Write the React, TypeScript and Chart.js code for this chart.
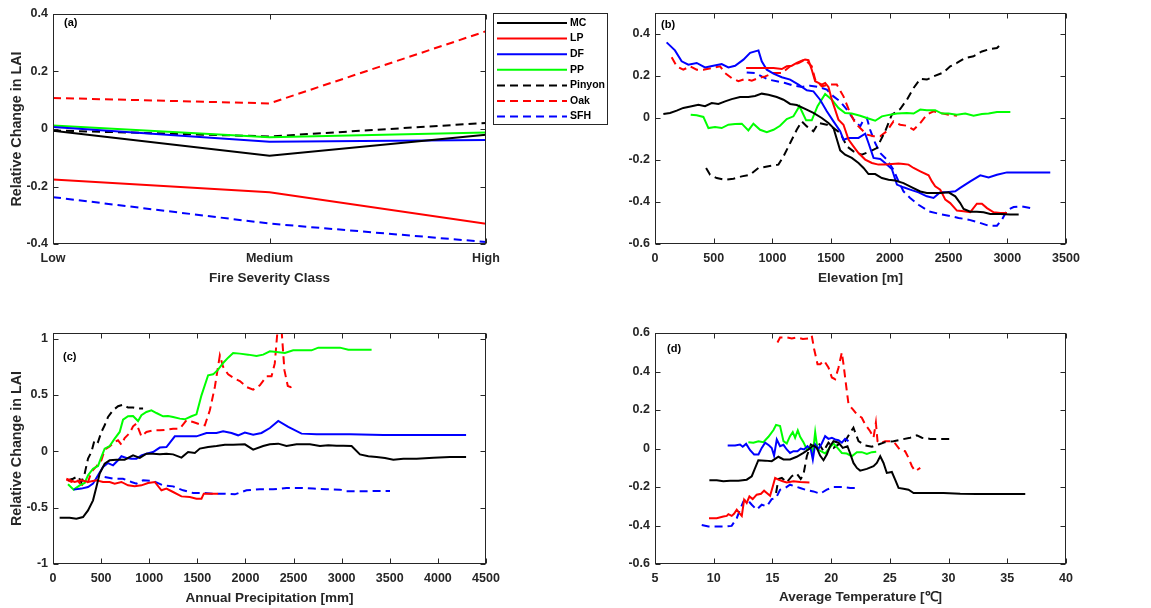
import React, { useEffect, useRef } from 'react';
import { Chart, registerables } from 'chart.js';
Chart.register(...registerables);

// ---------- series meta ----------
const seriesNames = ['MC', 'LP', 'DF', 'PP', 'Pinyon', 'Oak', 'SFH'];
const seriesColors = ['#000000', '#FF0000', '#0000FF', '#00FF00', '#000000', '#FF0000', '#0000FF'];
const seriesDashed = [false, false, false, false, true, true, true];

// ---------- panel (a): fire severity ----------
const severityClasses = ['Low', 'Medium', 'High'];
const sevMC = [-0.006, -0.093, -0.02];
const sevLP = [-0.176, -0.22, -0.33];
const sevDF = [0.007, -0.044, -0.038];
const sevPP = [0.012, -0.029, -0.012];
const sevPinyon = [-0.005, -0.026, 0.021];
const sevOak = [0.108, 0.089, 0.34];
const sevSFH = [-0.237, -0.329, -0.393];
const aXTicks = [0, 1, 2];
const aYTicks = [-0.4, -0.2, 0, 0.2, 0.4];

// ---------- panel (b): elevation [m] ----------
const elevMC = [[71,0.019],[128,0.024],[185,0.035],[241,0.048],[312,0.056],[369,0.063],[426,0.056],[483,0.071],[540,0.067],[597,0.079],[653,0.09],[724,0.1],[795,0.1],[852,0.105],[909,0.116],[966,0.111],[1037,0.1],[1094,0.087],[1151,0.067],[1207,0.062],[1278,0.043],[1349,0.024],[1420,0],[1477,-0.024],[1520,-0.048],[1548,-0.1],[1577,-0.154],[1619,-0.175],[1676,-0.19],[1733,-0.214],[1776,-0.238],[1818,-0.267],[1875,-0.267],[1932,-0.286],[1989,-0.294],[2045,-0.298],[2116,-0.31],[2188,-0.33],[2259,-0.35],[2315,-0.357],[2372,-0.357],[2429,-0.357],[2500,-0.354],[2557,-0.373],[2599,-0.405],[2628,-0.433],[2685,-0.446],[2741,-0.446],[2798,-0.449],[2855,-0.457],[2940,-0.457],[3026,-0.46],[3097,-0.46]];
const elevLP = [[776,0.238],[1009,0.238],[1080,0.233],[1122,0.246],[1165,0.249],[1207,0.262],[1250,0.273],[1278,0.278],[1307,0.275],[1335,0.23],[1364,0.175],[1392,0.167],[1420,0.159],[1449,0.167],[1477,0.148],[1506,0.087],[1534,0.04],[1562,-0.008],[1605,-0.032],[1648,-0.103],[1690,-0.135],[1733,-0.167],[1790,-0.198],[1847,-0.214],[1903,-0.222],[1960,-0.222],[2017,-0.219],[2074,-0.217],[2116,-0.219],[2159,-0.222],[2202,-0.238],[2259,-0.254],[2330,-0.273],[2358,-0.302],[2386,-0.325],[2429,-0.341],[2472,-0.389],[2514,-0.405],[2571,-0.441],[2628,-0.444],[2685,-0.448],[2741,-0.408],[2784,-0.408],[2827,-0.429],[2884,-0.449],[2940,-0.452],[2997,-0.452]];
const elevDF = [[99,0.36],[170,0.322],[227,0.27],[284,0.254],[355,0.262],[426,0.241],[497,0.249],[568,0.257],[625,0.241],[682,0.249],[753,0.278],[810,0.31],[881,0.322],[909,0.27],[952,0.23],[1009,0.211],[1080,0.194],[1151,0.183],[1222,0.159],[1293,0.132],[1349,0.127],[1406,0.087],[1463,0.032],[1520,-0.016],[1577,-0.063],[1605,-0.103],[1648,-0.095],[1690,-0.095],[1733,-0.095],[1790,-0.075],[1818,-0.119],[1861,-0.19],[1918,-0.195],[1960,-0.214],[2017,-0.243],[2060,-0.317],[2116,-0.33],[2173,-0.341],[2244,-0.354],[2315,-0.373],[2372,-0.381],[2429,-0.354],[2486,-0.354],[2557,-0.349],[2599,-0.333],[2685,-0.302],[2770,-0.273],[2841,-0.283],[2912,-0.27],[2997,-0.259],[3111,-0.259],[3366,-0.259]];
const elevPP = [[304,0.016],[355,0.013],[412,0.005],[455,-0.048],[511,-0.043],[568,-0.048],[625,-0.032],[682,-0.029],[739,-0.027],[795,-0.059],[838,-0.027],[895,-0.056],[952,-0.068],[1009,-0.056],[1065,-0.037],[1122,-0.005],[1179,0.008],[1230,0.056],[1287,-0.011],[1335,-0.011],[1384,0.056],[1449,0.114],[1506,0.087],[1562,0.048],[1619,0.024],[1676,0.021],[1747,0.011],[1804,0],[1875,-0.013],[1932,0.008],[2003,0.016],[2060,0.021],[2145,0.024],[2202,0.021],[2259,0.04],[2315,0.037],[2386,0.037],[2443,0.021],[2500,0.021],[2571,0.016],[2642,0.021],[2713,0.011],[2784,0.019],[2841,0.021],[2912,0.029],[3026,0.029]];
const elevPinyon = [[435,-0.238],[469,-0.27],[526,-0.286],[597,-0.294],[668,-0.289],[739,-0.278],[810,-0.27],[881,-0.238],[966,-0.23],[1051,-0.222],[1094,-0.183],[1151,-0.119],[1207,-0.056],[1250,-0.016],[1293,-0.04],[1349,-0.063],[1392,-0.024],[1463,-0.032],[1520,-0.048],[1577,-0.071],[1634,-0.135],[1690,-0.159],[1761,-0.175],[1832,-0.159],[1889,-0.143],[1960,-0.063],[2017,0.016],[2088,0.043],[2145,0.087],[2202,0.143],[2259,0.186],[2315,0.183],[2372,0.198],[2457,0.217],[2514,0.246],[2571,0.262],[2642,0.286],[2713,0.294],[2784,0.317],[2855,0.329],[2912,0.333],[2955,0.357]];
const elevOak = [[142,0.289],[185,0.246],[241,0.23],[298,0.246],[355,0.23],[412,0.23],[483,0.238],[554,0.246],[597,0.214],[653,0.19],[710,0.175],[767,0.186],[824,0.178],[881,0.19],[938,0.198],[1009,0.214],[1080,0.214],[1151,0.246],[1222,0.262],[1278,0.278],[1335,0.246],[1364,0.183],[1420,0.151],[1477,0.159],[1548,0.159],[1605,0.103],[1662,0.024],[1705,-0.024],[1747,-0.048],[1804,-0.079],[1861,-0.087],[1918,-0.087],[1974,-0.063],[2031,-0.016],[2088,-0.032],[2145,-0.037],[2202,-0.056],[2259,-0.024],[2315,0.016],[2372,0.032],[2429,0.024],[2500,0.016],[2571,0.011]];
const elevSFH = [[781,0.217],[852,0.214],[909,0.198],[966,0.183],[1037,0.175],[1108,0.167],[1179,0.154],[1250,0.148],[1321,0.154],[1392,0.148],[1463,0.135],[1520,0.103],[1577,0.079],[1634,0.04],[1690,-0.005],[1747,-0.04],[1776,-0.008],[1804,0],[1832,-0.056],[1875,-0.119],[1918,-0.167],[1974,-0.198],[2031,-0.246],[2074,-0.302],[2116,-0.349],[2173,-0.381],[2244,-0.413],[2330,-0.444],[2415,-0.456],[2500,-0.465],[2585,-0.476],[2670,-0.484],[2756,-0.497],[2841,-0.513],[2912,-0.513],[2955,-0.484],[2997,-0.44],[3054,-0.424],[3125,-0.421],[3196,-0.429]];
const bXTicks = [0, 500, 1000, 1500, 2000, 2500, 3000, 3500];
const bYTicks = [-0.6, -0.4, -0.2, 0, 0.2, 0.4];

// ---------- panel (c): annual precipitation [mm] ----------
const precMC = [[69,-0.589],[173,-0.589],[243,-0.598],[312,-0.583],[364,-0.524],[416,-0.435],[451,-0.317],[485,-0.198],[537,-0.109],[589,-0.08],[659,-0.074],[745,-0.074],[832,-0.036],[902,-0.059],[971,-0.021],[1040,-0.021],[1110,-0.027],[1179,-0.021],[1248,-0.027],[1335,-0.056],[1404,-0.006],[1474,-0.015],[1526,0.024],[1612,0.038],[1699,0.047],[1786,0.059],[1872,0.059],[1994,0.062],[2080,0.015],[2184,0.047],[2254,0.062],[2341,0.068],[2427,0.047],[2531,0.062],[2670,0.062],[2774,0.047],[2861,0.053],[2947,0.05],[3017,0.05],[3103,0.047],[3190,-0.027],[3277,-0.044],[3363,-0.05],[3450,-0.059],[3537,-0.074],[3641,-0.065],[3779,-0.065],[3953,-0.056],[4126,-0.05],[4293,-0.05]];
const precLP = [[139,-0.243],[225,-0.272],[295,-0.257],[364,-0.272],[451,-0.257],[520,-0.272],[589,-0.272],[641,-0.287],[711,-0.272],[780,-0.302],[849,-0.311],[919,-0.302],[988,-0.281],[1058,-0.272],[1127,-0.346],[1179,-0.331],[1248,-0.361],[1335,-0.4],[1422,-0.405],[1491,-0.42],[1543,-0.42],[1567,-0.376],[1630,-0.376],[1716,-0.376]];
const precDF = [[215,-0.34],[295,-0.331],[364,-0.317],[416,-0.287],[468,-0.213],[520,-0.139],[572,-0.104],[624,-0.124],[676,-0.08],[711,-0.044],[763,-0.059],[815,-0.065],[867,-0.065],[919,-0.036],[971,-0.021],[1040,-0.006],[1110,0.033],[1179,0.038],[1266,0.133],[1387,0.133],[1491,0.133],[1595,0.163],[1699,0.163],[1768,0.178],[1855,0.163],[1924,0.142],[1994,0.166],[2080,0.148],[2167,0.163],[2254,0.207],[2341,0.269],[2445,0.216],[2583,0.157],[2739,0.151],[3086,0.151],[3433,0.145],[3953,0.145],[4293,0.145]];
const precPP = [[156,-0.293],[215,-0.34],[277,-0.302],[329,-0.281],[364,-0.213],[416,-0.154],[468,-0.13],[503,-0.05],[537,0.024],[589,0.047],[641,0.112],[693,0.172],[728,0.281],[780,0.311],[832,0.314],[884,0.269],[919,0.32],[971,0.349],[1023,0.364],[1075,0.34],[1144,0.311],[1196,0.314],[1248,0.305],[1318,0.29],[1370,0.284],[1439,0.311],[1491,0.328],[1543,0.497],[1612,0.675],[1664,0.683],[1716,0.725],[1768,0.784],[1820,0.831],[1872,0.873],[1942,0.867],[2028,0.858],[2115,0.846],[2184,0.858],[2254,0.888],[2323,0.882],[2410,0.873],[2496,0.896],[2583,0.896],[2687,0.896],[2757,0.92],[2861,0.92],[2982,0.92],[3069,0.902],[3190,0.902],[3311,0.902]];
const precPinyon = [[156,-0.257],[208,-0.243],[260,-0.222],[295,-0.272],[329,-0.198],[364,-0.065],[399,-0.006],[433,0.104],[468,0.083],[503,0.172],[537,0.231],[572,0.305],[624,0.364],[676,0.4],[728,0.414],[780,0.388],[832,0.388],[884,0.379],[936,0.379]];
const precOak = [[139,-0.251],[191,-0.272],[243,-0.243],[277,-0.281],[312,-0.302],[364,-0.272],[399,-0.183],[451,-0.133],[503,-0.08],[537,0.015],[589,0.044],[641,0.083],[676,0.098],[711,0.059],[745,0.118],[798,0.163],[832,0.222],[867,0.246],[919,0.133],[971,0.172],[1040,0.186],[1110,0.186],[1179,0.192],[1248,0.201],[1318,0.201],[1387,0.275],[1456,0.26],[1526,0.24],[1578,0.231],[1630,0.364],[1682,0.571],[1734,0.852],[1768,0.749],[1820,0.683],[1890,0.645],[1942,0.624],[2011,0.571],[2080,0.547],[2150,0.586],[2219,0.666],[2271,0.666],[2305,0.78],[2338,1.12],[2372,1.12],[2405,0.72],[2440,0.58],[2470,0.57],[2496,0.59]];
const precSFH = [[537,-0.228],[624,-0.243],[728,-0.243],[815,-0.272],[867,-0.287],[936,-0.257],[1040,-0.263],[1144,-0.302],[1248,-0.311],[1352,-0.346],[1456,-0.37],[1560,-0.37],[1664,-0.376],[1768,-0.376],[1890,-0.382],[2011,-0.346],[2150,-0.337],[2288,-0.337],[2427,-0.325],[2566,-0.325],[2705,-0.331],[2843,-0.337],[2982,-0.34],[3051,-0.355],[3190,-0.355],[3329,-0.352],[3502,-0.352]];
const cXTicks = [0, 500, 1000, 1500, 2000, 2500, 3000, 3500, 4000, 4500];
const cYTicks = [-1, -0.5, 0, 0.5, 1];

// ---------- panel (d): average temperature [°C] ----------
const tempMC = [[9.63,-0.165],[10.26,-0.165],[10.82,-0.17],[11.39,-0.167],[12.1,-0.167],[12.81,-0.162],[13.24,-0.144],[13.47,-0.11],[13.8,-0.061],[14.38,-0.063],[14.94,-0.066],[15.51,-0.043],[15.94,-0.057],[16.5,-0.057],[17.07,-0.043],[17.64,-0.023],[18.07,-0.005],[18.49,0.016],[18.78,0.003],[19.06,-0.037],[19.35,-0.061],[19.63,-0.031],[19.91,0.012],[20.2,0.038],[20.63,0.03],[20.99,0.003],[21.39,0.012],[21.62,-0.026],[21.9,-0.075],[22.19,-0.101],[22.47,-0.115],[23.04,-0.106],[23.61,-0.092],[23.89,-0.075],[24.18,-0.04],[24.46,-0.075],[24.74,-0.127],[25.17,-0.122],[25.45,-0.162],[25.74,-0.205],[26.16,-0.209],[26.59,-0.214],[27.02,-0.231],[28.15,-0.231],[29.57,-0.231],[30.99,-0.235],[32.41,-0.237],[33.84,-0.237],[36.53,-0.237]];
const tempLP = [[9.6,-0.362],[10.26,-0.362],[10.82,-0.353],[11.11,-0.35],[11.25,-0.341],[11.53,-0.35],[11.73,-0.339],[11.96,-0.318],[12.19,-0.336],[12.39,-0.35],[12.59,-0.266],[12.81,-0.283],[13.04,-0.249],[13.32,-0.263],[13.66,-0.24],[14.03,-0.235],[14.29,-0.219],[14.52,-0.231],[14.8,-0.245],[15.03,-0.197],[15.23,-0.153],[15.51,-0.162],[15.88,-0.17],[16.22,-0.176],[16.79,-0.17],[17.36,-0.174],[18.15,-0.176]];
const tempDF = [[11.19,0.016],[11.82,0.016],[12.24,0.021],[12.47,0.009],[12.76,0.024],[13.1,-0.009],[13.44,-0.031],[13.81,-0.031],[14.09,0.003],[14.38,0.03],[14.72,0.016],[14.94,0.003],[15.14,-0.037],[15.37,0.047],[15.65,0.012],[15.94,0.019],[16.22,-0.005],[16.5,-0.023],[16.79,-0.014],[17.13,-0.014],[17.41,0],[17.7,-0.005],[17.98,0.012],[18.27,-0.005],[18.44,-0.057],[18.64,0.021],[18.92,-0.002],[19.2,0.026],[19.49,0.064],[19.77,0.05],[20.06,0.056],[20.34,0.047],[20.63,0.043],[20.91,0.03],[21.19,0.05],[21.48,0.038]];
const tempPP = [[12.95,0.033],[13.38,0.03],[13.81,0.038],[14.23,0.033],[14.66,0.061],[15.09,0.096],[15.31,0.123],[15.65,0.117],[15.94,0.038],[16.22,0.026],[16.5,0.064],[16.73,0.085],[16.93,0.056],[17.16,0.094],[17.36,0.061],[17.64,0.033],[17.93,-0.005],[18.27,0.009],[18.44,-0.026],[18.64,0.085],[18.84,-0.005],[19.12,-0.014],[19.49,-0.026],[19.86,0.003],[20.2,0.026],[20.54,0.003],[20.91,-0.023],[21.33,-0.026],[21.76,-0.04],[22.19,-0.019],[22.61,-0.019],[23.04,-0.028],[23.47,-0.019],[23.84,-0.017]];
const tempPinyon = [[15.31,-0.231],[15.51,-0.158],[15.8,-0.153],[16.22,-0.176],[16.65,-0.144],[17.07,-0.13],[17.41,-0.158],[17.64,-0.136],[17.93,-0.04],[18.27,0.021],[18.49,0.012],[18.92,0.03],[19.35,-0.014],[19.77,0.03],[20.2,0.003],[20.63,0.021],[21.19,0.038],[21.62,0.082],[21.9,0.108],[22.33,0.038],[22.9,0.016],[23.47,0.009],[24.03,0.021],[24.6,0.033],[25.31,0.038],[26.02,0.047],[26.73,0.056],[27.3,0.068],[27.73,0.056],[28.44,0.05],[29.29,0.05],[30.43,0.05]];
const tempOak = [[15.43,0.551],[15.65,0.577],[16.22,0.577],[16.65,0.572],[17.07,0.577],[17.59,0.569],[18.15,0.572],[18.35,0.586],[18.55,0.517],[18.84,0.438],[19.06,0.438],[19.4,0.456],[19.77,0.421],[20.06,0.369],[20.34,0.36],[20.63,0.421],[20.91,0.499],[21.05,0.438],[21.28,0.325],[21.48,0.23],[21.85,0.203],[22.19,0.177],[22.61,0.16],[22.9,0.125],[23.32,0.09],[23.61,0.056],[23.81,0.134],[23.95,0.038],[24.18,0.026],[24.6,0.038],[25.17,0.038],[25.45,0.026],[25.88,-0.009],[26.3,-0.014],[26.59,-0.049],[26.88,-0.092],[27.16,-0.118],[27.59,-0.101]];
const tempSFH = [[8.98,-0.397],[9.55,-0.405],[10.26,-0.405],[10.97,-0.405],[11.53,-0.402],[11.96,-0.362],[12.24,-0.318],[12.53,-0.275],[12.81,-0.263],[13.24,-0.292],[13.66,-0.318],[14.09,-0.292],[14.52,-0.301],[14.94,-0.263],[15.31,-0.257],[15.65,-0.214],[16.08,-0.205],[16.5,-0.188],[16.93,-0.197],[17.36,-0.205],[17.93,-0.217],[18.49,-0.223],[19.06,-0.235],[19.63,-0.214],[20.2,-0.2],[20.91,-0.2],[21.62,-0.205],[22.13,-0.205]];
const dXTicks = [5, 10, 15, 20, 25, 30, 35, 40];
const dYTicks = [-0.6, -0.4, -0.2, 0, 0.2, 0.4, 0.6];

// ---------- styling ----------
const FONT = "'Liberation Sans', Arial, Helvetica, sans-serif";
const AXIS_COLOR = '#262626';

function mkDatasets(series: number[][][]) {
  return series.map((pts, i) => ({
    label: seriesNames[i],
    data: pts.map((p) => ({ x: p[0], y: p[1] })),
    borderColor: seriesColors[i],
    backgroundColor: seriesColors[i],
    borderWidth: 2,
    borderDash: seriesDashed[i] ? [8, 5] : [],
    pointRadius: 0,
    tension: 0,
    fill: false,
  }));
}

const framePlugin = {
  id: 'matlabFrame',
  afterDatasetsDraw(chart: any, _args: any, opts: any) {
    const { ctx, chartArea } = chart;
    const { left, top, right, bottom } = chartArea;
    const xs = chart.scales.x;
    const ys = chart.scales.y;
    ctx.save();
    ctx.setLineDash([]);
    ctx.strokeStyle = AXIS_COLOR;
    ctx.lineWidth = 1;
    const L = Math.round(left) + 0.5, R = Math.round(right) - 0.5;
    const T = Math.round(top) + 0.5, B = Math.round(bottom) - 0.5;
    ctx.strokeRect(L, T, R - L, B - T);
    const tl = 5;
    ctx.beginPath();
    xs.ticks.forEach((t: any) => {
      const px = Math.round(xs.getPixelForValue(t.value)) + 0.5;
      ctx.moveTo(px, B); ctx.lineTo(px, B - tl);
      ctx.moveTo(px, T); ctx.lineTo(px, T + tl);
    });
    ys.ticks.forEach((t: any) => {
      const py = Math.round(ys.getPixelForValue(t.value)) + 0.5;
      ctx.moveTo(L, py); ctx.lineTo(L + tl, py);
      ctx.moveTo(R, py); ctx.lineTo(R - tl, py);
    });
    ctx.stroke();
    // panel letter
    if (opts && opts.letter) {
      ctx.fillStyle = '#000';
      ctx.font = `bold 11px ${FONT}`;
      ctx.textBaseline = 'middle';
      ctx.textAlign = 'left';
      ctx.fillText(opts.letter, left + opts.letterDx, top + opts.letterDy);
    }
    // legend
    if (opts && opts.legend) {
      const lg = opts.legend;
      ctx.fillStyle = '#fff';
      ctx.fillRect(lg.x, lg.y, lg.w, lg.h);
      ctx.strokeStyle = AXIS_COLOR;
      ctx.lineWidth = 1;
      ctx.strokeRect(lg.x + 0.5, lg.y + 0.5, lg.w - 1, lg.h - 1);
      ctx.font = `bold 10.5px ${FONT}`;
      ctx.textBaseline = 'middle';
      ctx.textAlign = 'left';
      seriesNames.forEach((name, i) => {
        const y = lg.y + 10 + i * 15.6;
        ctx.beginPath();
        ctx.strokeStyle = seriesColors[i];
        ctx.lineWidth = 2;
        ctx.setLineDash(seriesDashed[i] ? [8, 5] : []);
        ctx.moveTo(lg.x + 4, y);
        ctx.lineTo(lg.x + 74, y);
        ctx.stroke();
        ctx.setLineDash([]);
        ctx.fillStyle = '#000';
        ctx.fillText(name, lg.x + 77, y);
      });
    }
    ctx.restore();
  },
};

type PanelCfg = {
  series: number[][][];
  xMin: number; xMax: number; xTicks: number[]; xFmt?: (v: number) => string; xTitle: string;
  yMin: number; yMax: number; yTicks: number[]; yTitle?: string;
  yAxisWidth: number; xAxisHeight: number; padTop: number; padRight: number;
  xTitlePad: number; letter: string; letterDx: number; letterDy: number; legend?: any;
};

function makeConfig(c: PanelCfg): any {
  const tickFont = { family: FONT, size: 12.5, weight: 'bold' as const };
  return {
    type: 'line',
    data: { datasets: mkDatasets(c.series) },
    plugins: [framePlugin],
    options: {
      animation: false,
      responsive: false,
      maintainAspectRatio: false,
      events: [],
      layout: { padding: { top: c.padTop, right: c.padRight, left: 0, bottom: 0 } },
      plugins: {
        legend: { display: false },
        tooltip: { enabled: false },
        matlabFrame: { letter: c.letter, letterDx: c.letterDx, letterDy: c.letterDy, legend: c.legend },
      },
      scales: {
        x: {
          type: 'linear',
          min: c.xMin,
          max: c.xMax,
          grid: { display: false, drawTicks: false },
          border: { display: false },
          afterBuildTicks: (s: any) => { s.ticks = c.xTicks.map((v) => ({ value: v })); },
          afterFit: (s: any) => { s.height = c.xAxisHeight; },
          ticks: {
            color: AXIS_COLOR,
            font: tickFont,
            padding: 7,
            maxRotation: 0,
            autoSkip: false,
            callback: (v: number) => (c.xFmt ? c.xFmt(v) : String(v)),
          },
          title: {
            display: true,
            text: c.xTitle,
            color: AXIS_COLOR,
            font: { family: FONT, size: 13.5, weight: 'bold' },
            padding: { top: 0, bottom: c.xTitlePad },
          },
        },
        y: {
          type: 'linear',
          min: c.yMin,
          max: c.yMax,
          grid: { display: false, drawTicks: false },
          border: { display: false },
          afterBuildTicks: (s: any) => { s.ticks = c.yTicks.map((v) => ({ value: v })); },
          afterFit: (s: any) => { s.width = c.yAxisWidth; },
          ticks: {
            color: AXIS_COLOR,
            font: tickFont,
            padding: 5,
            autoSkip: false,
            callback: (v: number) => String(v),
          },
          title: {
            display: !!c.yTitle,
            text: c.yTitle || '',
            color: AXIS_COLOR,
            font: { family: FONT, size: 14.3, weight: 'bold' },
            padding: { top: 8, bottom: 0 },
          },
        },
      },
    },
  };
}

function Panel(props: { left: number; top: number; width: number; height: number; cfg: PanelCfg }) {
  const ref = useRef<HTMLCanvasElement>(null);
  useEffect(() => {
    const chart = new Chart(ref.current as HTMLCanvasElement, makeConfig(props.cfg));
    return () => chart.destroy();
  }, []);
  const { left, top, width, height } = props;
  return (
    <canvas
      ref={ref}
      width={width}
      height={height}
      style={{ position: 'absolute', left, top, width, height, display: 'block' }}
    />
  );
}

const panelA: PanelCfg = {
  series: [sevMC, sevLP, sevDF, sevPP, sevPinyon, sevOak, sevSFH].map((arr) => arr.map((v, i) => [aXTicks[i], v])),
  xMin: 0, xMax: 2, xTicks: aXTicks, xFmt: (v) => severityClasses[v] ?? '', xTitle: 'Fire Severity Class',
  yMin: -0.4, yMax: 0.4, yTicks: aYTicks, yTitle: 'Relative Change in LAI',
  yAxisWidth: 53, xAxisHeight: 56, padTop: 14, padRight: 612 - 486, xTitlePad: 14,
  letter: '(a)', letterDx: 11, letterDy: 9,
  legend: { x: 493, y: 13, w: 115, h: 112 },
};
const panelB: PanelCfg = {
  series: [elevMC, elevLP, elevDF, elevPP, elevPinyon, elevOak, elevSFH],
  xMin: 0, xMax: 3500, xTicks: bXTicks, xTitle: 'Elevation [m]',
  yMin: -0.6, yMax: 0.5, yTicks: bYTicks,
  yAxisWidth: 43, xAxisHeight: 56, padTop: 13, padRight: 85, xTitlePad: 14,
  letter: '(b)', letterDx: 6, letterDy: 12,
};
const panelC: PanelCfg = {
  series: [precMC, precLP, precDF, precPP, precPinyon, precOak, precSFH],
  xMin: 0, xMax: 4500, xTicks: cXTicks, xTitle: 'Annual Precipitation [mm]',
  yMin: -1, yMax: 1.05, yTicks: cYTicks, yTitle: 'Relative Change in LAI',
  yAxisWidth: 53, xAxisHeight: 44, padTop: 33, padRight: 74, xTitlePad: 2,
  letter: '(c)', letterDx: 10, letterDy: 24,
};
const panelD: PanelCfg = {
  series: [tempMC, tempLP, tempDF, tempPP, tempPinyon, tempOak, tempSFH],
  xMin: 5, xMax: 40, xTicks: dXTicks, xTitle: 'Average Temperature [\u2103]',
  yMin: -0.6, yMax: 0.6, yTicks: dYTicks,
  yAxisWidth: 95, xAxisHeight: 44, padTop: 33, padRight: 85, xTitlePad: 3,
  letter: '(d)', letterDx: 12, letterDy: 16,
};

export default function App() {
  return (
    <div style={{ position: 'absolute', left: 0, top: 0, width: 1151, height: 608, background: '#fff', overflow: 'hidden' }}>
      <Panel left={0} top={0} width={612} height={300} cfg={panelA} />
      <Panel left={612} top={0} width={539} height={300} cfg={panelB} />
      <Panel left={0} top={300} width={560} height={308} cfg={panelC} />
      <Panel left={560} top={300} width={591} height={308} cfg={panelD} />
    </div>
  );
}
